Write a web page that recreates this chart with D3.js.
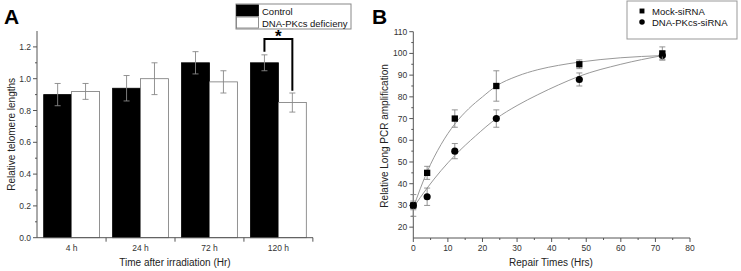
<!DOCTYPE html>
<html>
<head>
<meta charset="utf-8">
<script src="https://cdn.jsdelivr.net/npm/d3@7"></script>
<style>
body{margin:0;background:#fff;}
text{font-family:"Liberation Sans",Arial,sans-serif;}
</style>
</head>
<body>
<svg id="fig" width="741" height="271"></svg>
<script>
// panel A data
const groups = ["4 h","24 h","72 h","120 h"];
const seriesA = ["Control","DNA-PKcs deficieny"];
const controlVals = [0.90,0.94,1.10,1.10];
const controlErr = [0.07,0.08,0.07,0.05];
const pkcsVals = [0.92,1.00,0.98,0.85];
const pkcsErr = [0.05,0.10,0.07,0.06];
const yTicksA = [0,0.2,0.4,0.6,0.8,1.0,1.2];
const bracket = {top:1.25, leftBottom:1.17, rightBottom:0.925};

// panel B data
const repairTimes = [0,4,12,24,48,72];
const mockVals = [30,45,70,85,95,100];
const mockErr = [2,3,4,7,2,3];
const pkcsSiVals = [30,34,55,70,88,99];
const pkcsSiErr = [5,4,3.5,4,3,2];
// fitted curves
const mockFit = [[0,29],[4,45.5],[8,58],[12,67.5],[16,74.5],[20,80],[24,85],[30,89.5],[36,92.5],[42,94.5],[48,96],[60,98],[72,99]];
const pkcsFit = [[0,29],[4,38],[8,46],[12,53],[18,62],[24,70],[30,76],[36,81],[42,85.5],[48,89.5],[60,95],[72,99]];
const xTicksB = [0,10,20,30,40,50,60,70,80];
const yTicksB = [20,30,40,50,60,70,80,90,100,110];

const svg = d3.select("#fig");
const axisCol = "#555", labCol = "#333", errCol = "#888";

// ---------- panel A ----------
const yA = d3.scaleLinear().domain([0,1.3]).range([237.7,31]);
const xA = d3.scaleBand().domain(groups).range([37,313]).paddingInner(0.19).paddingOuter(0.097);
const xSub = d3.scaleBand().domain(seriesA).range([0,xA.bandwidth()]);

const gA = svg.append("g");
const rowsA = groups.map((g,i)=>({g:g, vals:[controlVals[i],pkcsVals[i]], errs:[controlErr[i],pkcsErr[i]]}));

const grp = gA.selectAll(".grp").data(rowsA).enter().append("g")
    .attr("transform",d=>"translate("+xA(d.g)+",0)");
grp.selectAll("rect").data(d=>seriesA.map((s,j)=>({s:s,v:d.vals[j],e:d.errs[j]})))
    .enter().append("rect")
    .attr("x",d=>xSub(d.s)).attr("width",xSub.bandwidth())
    .attr("y",d=>yA(d.v)).attr("height",d=>yA(0)-yA(d.v))
    .attr("fill",(d,j)=>j==0?"#000":"#fff")
    .attr("stroke",(d,j)=>j==0?"#000":"#777")
    .attr("stroke-width",0.8);
// error bars
grp.selectAll(".err").data(d=>seriesA.map((s,j)=>({s:s,v:d.vals[j],e:d.errs[j]})))
    .enter().append("path")
    .attr("d",d=>{
        const cx = xSub(d.s)+xSub.bandwidth()/2;
        const t = yA(d.v+d.e), b = yA(d.v-d.e);
        return "M"+(cx-3)+","+t+"H"+(cx+3)+"M"+cx+","+t+"V"+b+"M"+(cx-3)+","+b+"H"+(cx+3);
    })
    .attr("stroke",errCol).attr("fill","none").attr("stroke-width",0.9);

// axes A
gA.append("line").attr("x1",37).attr("x2",37).attr("y1",yA(1.3)).attr("y2",yA(0)).attr("stroke",axisCol);
gA.append("line").attr("x1",37).attr("x2",313).attr("y1",yA(0)).attr("y2",yA(0)).attr("stroke",axisCol);
d3.range(0,13).forEach(k=>{
    const v = k/10;
    gA.append("line").attr("x1",37).attr("x2",k%2==0?33:35).attr("y1",yA(v)).attr("y2",yA(v)).attr("stroke",axisCol);
});
gA.selectAll(".ylab").data(yTicksA).enter().append("text")
    .attr("x",31).attr("y",d=>yA(d)+3).attr("text-anchor","end")
    .attr("font-size",8.5).attr("fill",labCol).text(d=>d.toFixed(1));
const step = xA.step();
groups.forEach((g,i)=>{
    const bx = xA(g)+xA.bandwidth()+step*xA.paddingInner()/2;
    gA.append("line").attr("x1",bx).attr("x2",bx).attr("y1",yA(0)).attr("y2",yA(0)+4).attr("stroke",axisCol);
});
gA.selectAll(".xlab").data(groups).enter().append("text")
    .attr("x",d=>xA(d)+xA.bandwidth()/2).attr("y",251).attr("text-anchor","middle")
    .attr("font-size",8.5).attr("fill",labCol).text(d=>d);
gA.append("text").attr("x",175).attr("y",266).attr("text-anchor","middle")
    .attr("font-size",10).attr("fill","#222").text("Time after irradiation (Hr)");
gA.append("text").attr("transform","translate(15,"+yA(0.65)+") rotate(-90)")
    .attr("text-anchor","middle").attr("font-size",10).attr("fill","#222").text("Relative telomere lengths");
gA.append("text").attr("x",4).attr("y",24).attr("font-size",21).attr("font-weight","bold").text("A");

// significance bracket
const lx = xA("120 h")+xSub("Control")+xSub.bandwidth()/2;
const rx = xA("120 h")+xSub("DNA-PKcs deficieny")+xSub.bandwidth()/2;
gA.append("path")
    .attr("d","M"+lx+","+yA(bracket.leftBottom)+"V"+yA(bracket.top)+"H"+rx+"V"+yA(bracket.rightBottom))
    .attr("fill","none").attr("stroke","#000").attr("stroke-width",2);
gA.append("text").attr("x",(lx+rx)/2).attr("y",yA(bracket.top)+3).attr("text-anchor","middle")
    .attr("font-size",17).attr("font-weight","bold").text("*");

// legend A
const lgA = gA.append("g").attr("transform","translate(236,4)");
lgA.append("rect").attr("width",115).attr("height",25).attr("fill","#fff").attr("stroke","#888");
seriesA.forEach((s,i)=>{
    lgA.append("rect").attr("x",0.5).attr("y",1+i*12).attr("width",22).attr("height",11)
        .attr("fill",i==0?"#000":"#fff").attr("stroke",i==0?"#000":"#777").attr("stroke-width",0.8);
    lgA.append("text").attr("x",26).attr("y",10.5+i*12).attr("font-size",9.5).attr("fill","#111").text(s);
});

// ---------- panel B ----------
const xB = d3.scaleLinear().domain([0,80]).range([413.3,690]);
const yB = d3.scaleLinear().domain([15,110]).range([238,31.7]);
const gB = svg.append("g");

gB.append("line").attr("x1",xB(0)).attr("x2",xB(0)).attr("y1",yB(110)).attr("y2",yB(15)).attr("stroke",axisCol);
gB.append("line").attr("x1",xB(0)).attr("x2",xB(80)).attr("y1",yB(15)).attr("y2",yB(15)).attr("stroke",axisCol);
d3.range(20,111,5).forEach(v=>{
    gB.append("line").attr("x1",xB(0)).attr("x2",xB(0)-(v%10==0?4:2)).attr("y1",yB(v)).attr("y2",yB(v)).attr("stroke",axisCol);
});
d3.range(0,81,5).forEach(v=>{
    gB.append("line").attr("x1",xB(v)).attr("x2",xB(v)).attr("y1",yB(15)).attr("y2",yB(15)+(v%10==0?4:2)).attr("stroke",axisCol);
});
gB.selectAll(".ylab").data(yTicksB).enter().append("text")
    .attr("x",xB(0)-6).attr("y",d=>yB(d)+3).attr("text-anchor","end")
    .attr("font-size",8.5).attr("fill",labCol).text(d=>d);
gB.selectAll(".xlab").data(xTicksB).enter().append("text")
    .attr("x",d=>xB(d)).attr("y",251).attr("text-anchor","middle")
    .attr("font-size",8.5).attr("fill",labCol).text(d=>d);
gB.append("text").attr("x",551).attr("y",266).attr("text-anchor","middle")
    .attr("font-size",10).attr("fill","#222").text("Repair Times (Hrs)");
gB.append("text").attr("transform","translate(388,"+yB(62)+") rotate(-90)")
    .attr("text-anchor","middle").attr("font-size",10).attr("fill","#222").text("Relative Long PCR amplification");
gB.append("text").attr("x",372).attr("y",24).attr("font-size",21).attr("font-weight","bold").text("B");

// fit curves
const line = d3.line().x(d=>xB(d[0])).y(d=>yB(d[1])).curve(d3.curveMonotoneX);
[mockFit,pkcsFit].forEach(f=>{
    gB.append("path").attr("d",line(f)).attr("fill","none").attr("stroke","#999").attr("stroke-width",1);
});

// error bars + markers
function drawSeries(vals,errs,shape){
    const pts = repairTimes.map((t,i)=>({t:t,v:vals[i],e:errs[i]}));
    gB.append("g").selectAll("path").data(pts).enter().append("path")
        .attr("d",d=>{
            const cx = xB(d.t), t = yB(d.v+d.e), b = yB(d.v-d.e);
            return "M"+(cx-3)+","+t+"H"+(cx+3)+"M"+cx+","+t+"V"+b+"M"+(cx-3)+","+b+"H"+(cx+3);
        })
        .attr("stroke",errCol).attr("fill","none").attr("stroke-width",0.9);
    const sym = d3.symbol().type(shape).size(40);
    gB.append("g").selectAll("path").data(pts).enter().append("path")
        .attr("transform",d=>"translate("+xB(d.t)+","+yB(d.v)+")")
        .attr("d",sym).attr("fill","#000");
}
drawSeries(pkcsSiVals,pkcsSiErr,d3.symbolCircle);
drawSeries(mockVals,mockErr,d3.symbolSquare);

// legend B
const lgB = gB.append("g").attr("transform","translate(627,1)");
lgB.append("rect").attr("width",110).attr("height",38).attr("fill","#fff").attr("stroke","#999");
[["Mock-siRNA",d3.symbolSquare],["DNA-PKcs-siRNA",d3.symbolCircle]].forEach((it,i)=>{
    lgB.append("path").attr("transform","translate(15,"+(10+i*11)+")")
        .attr("d",d3.symbol().type(it[1]).size(24)).attr("fill","#000");
    lgB.append("text").attr("x",25).attr("y",13.5+i*11).attr("font-size",9.5).attr("fill","#111").text(it[0]);
});
</script>
</body>
</html>
